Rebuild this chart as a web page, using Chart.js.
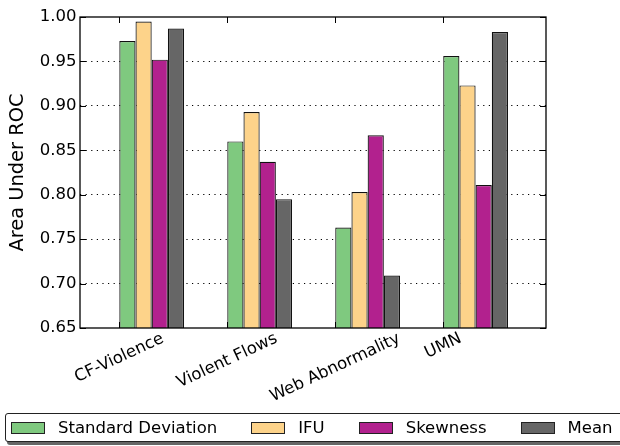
<!DOCTYPE html>
<html>
<head>
<meta charset="utf-8">
<script src="https://cdn.jsdelivr.net/npm/chart.js@4.4.1/dist/chart.umd.min.js"></script>
<style>
html, body { margin: 0; padding: 0; background: #fff; overflow: hidden; }
#wrap { position: relative; width: 620px; height: 446px; }
#legend {
    position: absolute; left: 5px; top: 413px; width: 640px; height: 29px;
    border: 1px solid #222; border-radius: 3px; box-shadow: 2px 3px 0 #666;
    background: #fff; display: flex; align-items: center; box-sizing: border-box;
    padding-left: 5px; font: 16.5px "DejaVu Sans"; color: #000;
}
.item { display: flex; align-items: center; margin-right: 34px; white-space: nowrap; }
.sw { width: 34px; height: 12px; border: 1px solid #222; margin-right: 13px; box-sizing: border-box; }
</style>
</head>
<body>
<div id="wrap">
    <canvas id="barChart" width="620" height="446"></canvas>
    <div id="legend"></div>
</div>
<script>
// Données
const categories = ['CF-Violence', 'Violent Flows', 'Web Abnormality', 'UMN'];
const seriesNames = ['Standard Deviation', 'IFU', 'Skewness', 'Mean'];
const stdDev   = [0.973, 0.860, 0.763, 0.956];
const ifu      = [0.995, 0.893, 0.803, 0.923];
const skewness = [0.952, 0.837, 0.867, 0.811];
const mean     = [0.987, 0.795, 0.709, 0.983];
const yTicks   = [0.65, 0.70, 0.75, 0.80, 0.85, 0.90, 0.95, 1.00];

const colors = ['#7fc97f', '#fdd38a', '#b2218e', '#666666'];
const FONT = '"DejaVu Sans"';
const groupOffset = 0.3; // ticks sit at the left edge of each group

// petits traits vers l'intérieur + cadre
const frame = {
    id: 'frame',
    afterDraw(chart) {
        const { ctx, chartArea: a, scales: { x, y } } = chart;
        ctx.save();
        ctx.strokeStyle = '#000';
        ctx.lineWidth = 1;
        ctx.beginPath();
        yTicks.forEach(v => {
            const py = Math.round(y.getPixelForValue(v)) + 0.5;
            ctx.moveTo(a.left, py); ctx.lineTo(a.left + 6, py);
            ctx.moveTo(a.right, py); ctx.lineTo(a.right - 6, py);
        });
        categories.forEach((c, i) => {
            const px = Math.round(x.getPixelForValue(i)) + 0.5;
            ctx.moveTo(px, a.top); ctx.lineTo(px, a.top + 6);
            ctx.moveTo(px, a.bottom); ctx.lineTo(px, a.bottom - 6);
        });
        ctx.stroke();
        ctx.lineWidth = 1.3;
        ctx.strokeRect(a.left, a.top, a.right - a.left, a.bottom - a.top);

        // étiquettes x tournées, centrées sur le tick
        const ang = 25 * Math.PI / 180;
        ctx.font = '16.5px ' + FONT;
        ctx.fillStyle = '#000';
        ctx.textAlign = 'center';
        ctx.textBaseline = 'middle';
        categories.forEach((c, i) => {
            const w = ctx.measureText(c).width;
            const bh = w * Math.sin(ang) + 19.3 * Math.cos(ang);
            const px = x.getPixelForValue(i);
            ctx.save();
            ctx.translate(px, a.bottom + 1 + bh / 2);
            ctx.rotate(-ang);
            ctx.fillText(c, 0, 0);
            ctx.restore();
        });
        ctx.restore();
    }
};

function createBarChart() {
    const ctx = document.getElementById('barChart');
    const all = [stdDev, ifu, skewness, mean];

    new Chart(ctx, {
        type: 'bar',
        data: {
            datasets: all.map((vals, k) => ({
                label: seriesNames[k],
                data: vals.map((v, i) => ({ x: i + groupOffset, y: v })),
                backgroundColor: colors[k],
                borderColor: '#111',
                borderWidth: 1.2,
                categoryPercentage: 0.6,
                barPercentage: 1.0
            }))
        },
        options: {
            responsive: false,
            animation: false,
            layout: { padding: { top: 17, right: 74, left: 0, bottom: 0 } },
            plugins: { legend: { display: false }, tooltip: { enabled: false } },
            scales: {
                x: {
                    type: 'linear',
                    min: -0.364,
                    max: 3.952,
                    offset: false,
                    bounds: 'data',
                    grid: { display: false, offset: false },
                    border: { display: false },
                    ticks: { display: false, includeBounds: false, stepSize: 1 },
                    afterBuildTicks: s => { s.ticks = categories.map((c, i) => ({ value: i })); },
                    afterFit: s => { s.height = 118; }
                },
                y: {
                    min: 0.65,
                    max: 1.0,
                    z: 1,
                    afterBuildTicks: s => { s.ticks = yTicks.map(v => ({ value: v })); },
                    afterFit: s => { s.width = 80; },
                    grid: {
                        color: ctx => (ctx.tick && (ctx.tick.value <= 0.651 || ctx.tick.value >= 0.999)) ? 'rgba(0,0,0,0)' : '#000',
                        lineWidth: 1,
                        drawTicks: false
                    },
                    border: { display: false, dash: [1.2, 4.4] },
                    ticks: {
                        padding: 3.5,
                        color: '#000',
                        font: { family: FONT, size: 16.5 },
                        callback: v => v.toFixed(2)
                    },
                    title: {
                        display: true,
                        text: 'Area Under ROC',
                        color: '#000',
                        font: { family: FONT, size: 19.4 },
                        padding: { top: 6.4, bottom: 0 }
                    }
                }
            }
        },
        plugins: [frame]
    });

    // légende en HTML, comme celle de matplotlib
    const leg = document.getElementById('legend');
    seriesNames.forEach((name, k) => {
        const it = document.createElement('div');
        it.className = 'item';
        it.innerHTML = `<span class="sw" style="background:${colors[k]}"></span><span>${name}</span>`;
        leg.appendChild(it);
    });
}

document.addEventListener('DOMContentLoaded', createBarChart);
</script>
</body>
</html>
